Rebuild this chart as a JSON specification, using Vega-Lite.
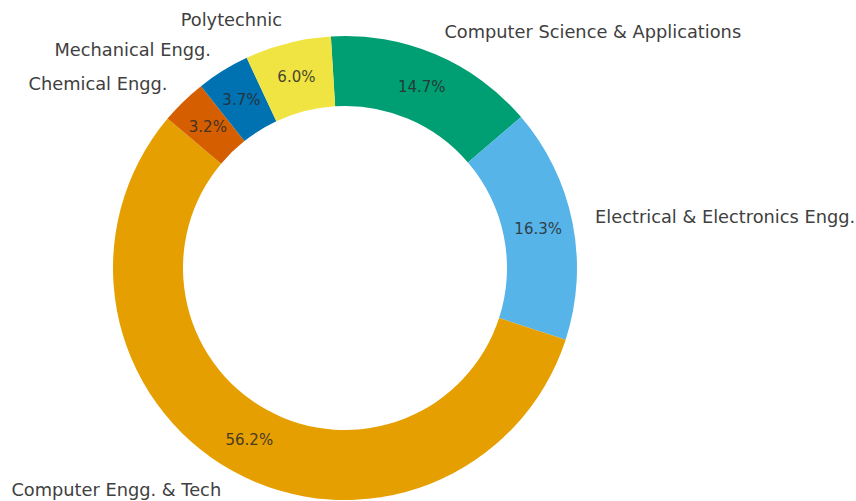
{
  "$schema": "https://vega.github.io/schema/vega-lite/v6.json",
  "width": 690,
  "height": 466,
  "autosize": "none",
  "padding": {"left": 0, "top": 35, "right": 166, "bottom": 0},
  "background": "white",
  "config": {"view": {"stroke": null}, "font": "DejaVu Sans"},
  "data": {
    "values": [
      {"dept": "Computer Science & Applications", "share": 0.147},
      {"dept": "Electrical & Electronics Engg.", "share": 0.163},
      {"dept": "Computer Engg. & Tech", "share": 0.562},
      {"dept": "Chemical Engg.", "share": 0.032},
      {"dept": "Mechanical Engg.", "share": 0.037},
      {"dept": "Polytechnic", "share": 0.060}
    ]
  },
  "transform": [{"window": [{"op": "row_number", "as": "idx"}]}],
  "encoding": {
    "theta": {"field": "share", "type": "quantitative", "stack": true, "scale": {"range": [-0.061, 6.2222]}},
    "order": {"field": "idx", "type": "quantitative"}
  },
  "layer": [
    {
      "mark": {"type": "arc", "outerRadius": 232, "innerRadius": 162},
      "encoding": {
        "color": {
          "field": "dept",
          "type": "nominal",
          "legend": null,
          "scale": {
            "domain": ["Computer Science & Applications", "Electrical & Electronics Engg.", "Computer Engg. & Tech", "Chemical Engg.", "Mechanical Engg.", "Polytechnic"],
            "range": ["#009E73", "#56B4E9", "#E69F00", "#D55E00", "#0072B2", "#F0E442"]
          }
        }
      }
    },
    {
      "mark": {"type": "text", "radius": 197, "fontSize": 15, "color": "#2b2b2b", "opacity": 0.85, "align": "center", "baseline": "middle"},
      "encoding": {"text": {"field": "share", "type": "quantitative", "format": ".1%"}}
    },
    {
      "mark": {"type": "text", "radius": 255, "fontSize": 17.8, "color": "#404040", "align": "left", "baseline": "middle"},
      "encoding": {
        "text": {
          "condition": {"test": "datum.dept === 'Computer Science & Applications' || datum.dept === 'Electrical & Electronics Engg.'", "field": "dept", "type": "nominal"},
          "value": ""
        }
      }
    },
    {
      "mark": {"type": "text", "radius": 255, "fontSize": 17.8, "color": "#404040", "align": "right", "baseline": "middle"},
      "encoding": {
        "text": {
          "condition": {"test": "datum.dept !== 'Computer Science & Applications' && datum.dept !== 'Electrical & Electronics Engg.'", "field": "dept", "type": "nominal"},
          "value": ""
        }
      }
    }
  ]
}
